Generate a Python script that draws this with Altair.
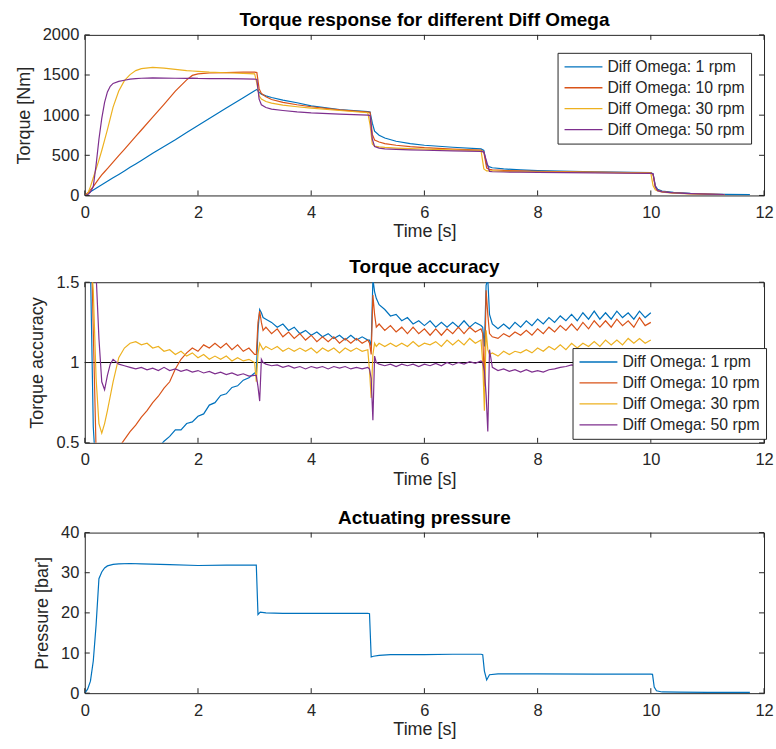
import altair as alt
import pandas as pd

FONT = "Liberation Sans"
TXT = "#262626"
BOX = "#262626"
SERIES = ["Diff Omega: 1 rpm", "Diff Omega: 10 rpm", "Diff Omega: 30 rpm", "Diff Omega: 50 rpm"]
COLORS = ["#0072BD", "#D95319", "#EDB120", "#7E2F8E"]

X_TICKS = [0, 2, 4, 6, 8, 10, 12]
TORQUE_TICKS = [0, 500, 1000, 1500, 2000]
ACC_TICKS = [0.5, 1, 1.5]
PRESS_TICKS = [0, 10, 20, 30, 40]

# ---------------- Torque response ----------------
T_TORQUE = [0, 0.05, 0.1, 0.15, 0.2, 0.25, 0.3, 0.35, 0.4, 0.45, 0.5, 0.6, 0.7, 0.8, 0.9, 1.0,
            1.2, 1.4, 1.6, 1.8, 1.9, 2.0, 2.2, 2.5, 2.8, 3.0, 3.04, 3.08, 3.12, 3.2, 3.3, 3.5,
            3.75, 4.0, 4.5, 5.0, 5.04, 5.08, 5.12, 5.2, 5.3, 5.5, 5.75, 6.0, 6.5, 7.0, 7.05, 7.1,
            7.15, 7.2, 7.4, 7.7, 8.0, 9.0, 10.0, 10.04, 10.08, 10.12, 10.2, 10.4, 10.7, 11.0, 11.3, 11.75]
TQ_1 = [0, 25, 45, 68, 90, 112, 133, 155, 177, 198, 220, 262, 305, 350, 393, 436,
        525, 610, 695, 785, 828, 872, 958, 1090, 1218, 1305, 1320, 1285, 1262, 1240, 1220, 1188,
        1155, 1115, 1070, 1045, 1040, 900, 800, 750, 715, 675, 645, 625, 600, 580, 560, 380,
        355, 345, 330, 318, 310, 295, 285, 270, 120, 75, 55, 38, 25, 18, 14, 10]
TQ_10 = [0, 30, 70, 110, 160, 210, 255, 295, 335, 375, 415, 495, 575, 655, 735, 815,
         975, 1135, 1300, 1440, 1495, 1515, 1525, 1530, 1535, 1535, 1530, 1330, 1270, 1230, 1195, 1160,
         1130, 1105, 1065, 1038, 1035, 760, 690, 665, 645, 625, 608, 595, 578, 565, 540, 340,
         325, 320, 312, 305, 300, 290, 280, 260, 100, 65, 48, 33, 22, 16, 12, None]
TQ_30 = [0, 20, 110, 220, 330, 440, 560, 690, 820, 960, 1100, 1300, 1430, 1505, 1555, 1580,
         1595, 1585, 1570, 1555, 1550, 1545, 1535, 1528, 1520, 1515, 1400, 1240, 1200, 1170, 1150, 1125,
         1105, 1088, 1058, 1030, 880, 640, 615, 605, 598, 590, 583, 578, 568, 558, 330, 305,
         305, 305, 300, 297, 295, 287, 278, 120, 70, 55, 42, 30, 20, 15, 11, None]
TQ_50 = [0, 10, 40, 110, 380, 700, 960, 1160, 1290, 1360, 1395, 1420, 1435, 1448, 1455, 1460,
         1465, 1462, 1460, 1458, 1462, 1458, 1455, 1455, 1452, 1450, 1445, 1200, 1130, 1095, 1075, 1058,
         1040, 1028, 1012, 1000, 995, 700, 610, 590, 580, 575, 568, 563, 555, 548, 540, 420,
         300, 295, 292, 290, 288, 282, 275, 270, 110, 60, 45, 32, 22, 16, 12, None]

# ---------------- Torque accuracy ----------------
T_ACC = ([0, 0.05, 0.1, 0.15, 0.2, 0.25, 0.3, 0.35, 0.4, 0.45, 0.5]
         + [0.6, 0.7, 0.8, 0.9, 1.0, 1.1, 1.2, 1.3, 1.4, 1.5, 1.6, 1.7, 1.8, 1.9, 2.0, 2.1, 2.2,
            2.3, 2.4, 2.5, 2.6, 2.7, 2.8, 2.9, 3.0]
         + [3.03, 3.06, 3.09, 3.12, 3.15, 3.2]
         + [3.3, 3.4, 3.5, 3.6, 3.7, 3.8, 3.9, 4.0, 4.1, 4.2, 4.3, 4.4, 4.5, 4.6, 4.7, 4.8, 4.9, 5.0]
         + [5.03, 5.06, 5.09, 5.12, 5.15, 5.2]
         + [5.3, 5.4, 5.5, 5.6, 5.7, 5.8, 5.9, 6.0, 6.1, 6.2, 6.3, 6.4, 6.5, 6.6, 6.7, 6.8, 6.9, 7.0]
         + [7.03, 7.06, 7.09, 7.12, 7.15, 7.2]
         + [7.3, 7.4, 7.5, 7.6, 7.7, 7.8, 7.9, 8.0, 8.1, 8.2, 8.3, 8.4, 8.5, 8.6, 8.7, 8.8, 8.9,
            9.0, 9.1, 9.2, 9.3, 9.4, 9.5, 9.6, 9.7, 9.8, 9.9, 10.0])
ACC_1 = ([3.0, 2.5, 1.6, 0.6, 0.3, 0.2, 0.2, 0.2, 0.21, 0.22, 0.23]
         + [0.26, 0.29, 0.32, 0.35, 0.38, 0.41, 0.44, 0.47, 0.51, 0.54, 0.58, 0.58, 0.62, 0.63, 0.665,
            0.68, 0.735, 0.75, 0.795, 0.805, 0.845, 0.855, 0.89, 0.905, 0.935]
         + [0.94, 1.2, 1.33, 1.31, 1.28, 1.27]
         + [1.25, 1.22, 1.24, 1.20, 1.22, 1.18, 1.20, 1.17, 1.19, 1.16, 1.18, 1.15, 1.17, 1.14, 1.17,
            1.14, 1.16, 1.14]
         + [1.14, 1.10, 1.52, 1.44, 1.40, 1.36]
         + [1.33, 1.29, 1.30, 1.26, 1.28, 1.24, 1.26, 1.23, 1.26, 1.22, 1.25, 1.22, 1.25, 1.22, 1.26,
            1.22, 1.25, 1.23]
         + [1.22, 1.10, 1.48, 1.52, 1.30, 1.24]
         + [1.21, 1.24, 1.21, 1.25, 1.22, 1.26, 1.23, 1.27, 1.24, 1.28, 1.25, 1.29, 1.26, 1.30, 1.26,
            1.31, 1.27, 1.32, 1.27, 1.31, 1.27, 1.32, 1.28, 1.31, 1.27, 1.32, 1.28, 1.31])
ACC_10 = ([3.0, 2.6, 2.0, 1.2, 0.45, 0.35, 0.32, 0.33, 0.35, 0.38, 0.41]
          + [0.47, 0.52, 0.57, 0.61, 0.66, 0.70, 0.75, 0.79, 0.84, 0.88, 0.96, 1.02, 1.06, 1.09, 1.07,
             1.11, 1.09, 1.12, 1.09, 1.12, 1.08, 1.11, 1.07, 1.09, 1.05]
          + [1.05, 1.25, 1.32, 1.25, 1.20, 1.22]
          + [1.18, 1.21, 1.16, 1.19, 1.15, 1.18, 1.14, 1.17, 1.13, 1.16, 1.13, 1.16, 1.12, 1.15, 1.12,
             1.15, 1.12, 1.14]
          + [1.12, 1.05, 1.42, 1.30, 1.22, 1.24]
          + [1.20, 1.23, 1.19, 1.22, 1.18, 1.22, 1.18, 1.21, 1.17, 1.21, 1.17, 1.21, 1.18, 1.22, 1.18,
             1.22, 1.19, 1.21]
          + [1.18, 0.85, 1.45, 1.30, 1.18, 1.16]
          + [1.15, 1.18, 1.16, 1.19, 1.17, 1.20, 1.17, 1.21, 1.18, 1.22, 1.19, 1.23, 1.20, 1.24, 1.20,
             1.25, 1.21, 1.26, 1.22, 1.26, 1.22, 1.27, 1.23, 1.26, 1.22, 1.28, 1.23, 1.25])
ACC_30 = ([3.0, 2.4, 1.7, 1.45, 0.9, 0.62, 0.56, 0.62, 0.70, 0.79, 0.88]
          + [1.03, 1.09, 1.12, 1.13, 1.11, 1.12, 1.09, 1.10, 1.07, 1.08, 1.05, 1.07, 1.04, 1.06, 1.03,
             1.05, 1.02, 1.04, 1.02, 1.04, 1.01, 1.03, 1.01, 1.02, 1.00]
          + [0.88, 1.05, 1.12, 1.10, 1.08, 1.10]
          + [1.08, 1.10, 1.07, 1.09, 1.07, 1.09, 1.07, 1.09, 1.06, 1.09, 1.07, 1.09, 1.06, 1.09, 1.07,
             1.09, 1.07, 1.08]
          + [0.95, 0.78, 1.05, 1.12, 1.10, 1.12]
          + [1.10, 1.12, 1.10, 1.12, 1.10, 1.13, 1.10, 1.12, 1.11, 1.13, 1.10, 1.14, 1.11, 1.14, 1.11,
             1.15, 1.12, 1.14]
          + [1.00, 0.70, 1.20, 1.08, 1.05, 1.06]
          + [1.04, 1.07, 1.05, 1.07, 1.06, 1.08, 1.06, 1.09, 1.07, 1.10, 1.08, 1.11, 1.08, 1.12, 1.09,
             1.12, 1.10, 1.13, 1.10, 1.14, 1.11, 1.14, 1.11, 1.15, 1.12, 1.15, 1.12, 1.14])
ACC_50 = ([3.0, 2.8, 2.3, 1.8, 1.55, 1.15, 0.88, 0.83, 0.92, 0.99, 1.02]
          + [0.99, 0.98, 0.97, 0.96, 0.97, 0.955, 0.965, 0.95, 0.97, 0.95, 0.96, 0.945, 0.955, 0.94,
             0.95, 0.935, 0.945, 0.93, 0.94, 0.925, 0.935, 0.92, 0.93, 0.915, 0.92]
          + [0.92, 0.85, 0.76, 1.02, 1.00, 0.99]
          + [0.98, 0.985, 0.97, 0.98, 0.965, 0.975, 0.96, 0.975, 0.965, 0.975, 0.96, 0.975, 0.965,
             0.975, 0.96, 0.97, 0.96, 0.97]
          + [0.96, 0.90, 0.64, 1.04, 1.00, 0.99]
          + [0.98, 0.99, 0.975, 0.99, 0.98, 0.99, 0.975, 0.99, 0.98, 0.995, 0.98, 1.00, 0.985, 1.00,
             0.99, 1.005, 0.995, 1.01]
          + [1.00, 0.95, 0.80, 0.57, 1.08, 0.97]
          + [0.95, 0.96, 0.945, 0.955, 0.94, 0.955, 0.94, 0.95, 0.94, 0.955, 0.96, 0.97, 0.975, 0.985,
             0.98, 0.99, 0.985, 0.995, 0.99, 1.00, 0.99, 1.00, 0.995, 1.005, 0.995, 1.00, 0.995, 1.00])
ACC_REF = [1.0]

# ---------------- Actuating pressure ----------------
T_PRESS = [0, 0.05, 0.1, 0.15, 0.2, 0.25, 0.3, 0.35, 0.4, 0.5, 0.6, 0.8, 1.0, 1.5, 2.0, 2.5, 3.0,
           3.03, 3.06, 3.1, 3.2, 3.5, 4.0, 4.5, 5.0, 5.03, 5.06, 5.1, 5.2, 5.4, 6.0, 6.5, 7.0,
           7.03, 7.06, 7.1, 7.15, 7.3, 8.0, 9.0, 10.0, 10.03, 10.06, 10.1, 10.2, 10.5, 11.0, 11.75]
PRESS = [0, 1, 3, 8, 17, 28.5, 30.2, 31.2, 31.7, 32.1, 32.2, 32.3, 32.2, 32.0, 31.8, 31.9, 31.9,
         31.9, 19.6, 20.2, 20.0, 19.9, 19.9, 19.9, 19.9, 19.8, 9.0, 9.2, 9.4, 9.6, 9.6, 9.7, 9.7,
         9.6, 5.5, 3.3, 4.6, 4.8, 4.8, 4.75, 4.75, 4.7, 1.5, 0.6, 0.3, 0.25, 0.2, 0.2]

for s in (TQ_1, TQ_10, TQ_30, TQ_50):
    assert len(s) == len(T_TORQUE)
for s in (ACC_1, ACC_10, ACC_30, ACC_50):
    assert len(s) == len(T_ACC)
assert len(PRESS) == len(T_PRESS)


def long_df(times, series_list):
    rows = []
    for name, vals in zip(SERIES, series_list):
        for t, v in zip(times, vals):
            if v is not None:
                rows.append({"t": t, "v": v, "s": name})
    return pd.DataFrame(rows)


torque_df = long_df(T_TORQUE, [TQ_1, TQ_10, TQ_30, TQ_50])
acc_df = long_df(T_ACC, [ACC_1, ACC_10, ACC_30, ACC_50])
press_df = pd.DataFrame({"t": T_PRESS, "v": PRESS})

W, H = 681, 161
TICK = 5


def x_axis():
    return alt.Axis(title="Time [s]", values=X_TICKS, format="d", ticks=False, domain=False,
                    grid=False, labelPadding=9, titlePadding=2, labelFontSize=16.5,
                    titleFontSize=18, labelColor=TXT, titleColor=TXT, labelFont=FONT,
                    titleFont=FONT, titleFontWeight="normal", labelFlush=False,
                    labelOverlap=False)


def y_axis(title, vals, fmt):
    return alt.Axis(title=title, values=vals, format=fmt, ticks=False, domain=False,
                    grid=False, labelPadding=6, titlePadding=9, labelFontSize=16.5,
                    titleFontSize=18, labelColor=TXT, titleColor=TXT, labelFont=FONT,
                    titleFont=FONT, titleFontWeight="normal", labelFlush=False,
                    labelOverlap=False)


def panel(title, ytitle, ydom, yticks, yfmt, line_layers):
    xs = alt.Scale(domain=[0, 12], nice=False, zero=False)
    ys = alt.Scale(domain=ydom, nice=False, zero=False)
    X = lambda: alt.X("t:Q", scale=xs, axis=x_axis())
    Y = lambda: alt.Y("v:Q", scale=ys, axis=y_axis(ytitle, yticks, yfmt))
    xt = pd.DataFrame({"t": X_TICKS})
    yt = pd.DataFrame({"v": yticks})
    layers = []
    for lay in line_layers:
        layers.append(lay(X, Y))
    layers += [
        alt.Chart(xt).mark_rule(color=BOX, strokeWidth=1).encode(x=X(), y=alt.value(H), y2=alt.value(H - TICK)),
        alt.Chart(xt).mark_rule(color=BOX, strokeWidth=1).encode(x=X(), y=alt.value(0), y2=alt.value(TICK)),
        alt.Chart(yt).mark_rule(color=BOX, strokeWidth=1).encode(y=Y(), x=alt.value(0), x2=alt.value(TICK)),
        alt.Chart(yt).mark_rule(color=BOX, strokeWidth=1).encode(y=Y(), x=alt.value(W), x2=alt.value(W - TICK)),
    ]
    return alt.layer(*layers).properties(
        width=W, height=H,
        title=alt.TitleParams(title, font=FONT, fontSize=19, fontWeight="bold", color="#000000",
                              anchor="middle", offset=-3, frame="group"),
    )


def legend(lx, ly):
    return alt.Legend(title=None, orient="none", legendX=lx, legendY=ly, direction="vertical",
                      symbolType="stroke", symbolSize=1444, symbolStrokeWidth=1.3,
                      labelFontSize=15.8, labelFont=FONT, labelColor=TXT, labelOffset=4,
                      padding=6, rowPadding=5, clipHeight=16, strokeColor=TXT, fillColor="white",
                      labelLimit=300)


cscale = alt.Scale(domain=SERIES, range=COLORS)


def torque_lines(X, Y):
    return alt.Chart(torque_df).mark_line(strokeWidth=1.2, clip=True).encode(
        x=X(), y=Y(), color=alt.Color("s:N", scale=cscale, legend=legend(474, 18)),
        order=alt.Order("t:Q"))


def acc_ref(X, Y):
    return alt.Chart(pd.DataFrame({"v": ACC_REF})).mark_rule(color="#000000", strokeWidth=1).encode(y=Y())


def acc_lines(X, Y):
    return alt.Chart(acc_df).mark_line(strokeWidth=1.2, clip=True).encode(
        x=X(), y=Y(), color=alt.Color("s:N", scale=cscale, legend=legend(489, 66)),
        order=alt.Order("t:Q"))


def press_line(X, Y):
    return alt.Chart(press_df).mark_line(strokeWidth=1.2, clip=True, color=COLORS[0]).encode(
        x=X(), y=Y(), order=alt.Order("t:Q"))


top = panel("Torque response for different Diff Omega", "Torque [Nm]", [0, 2000], TORQUE_TICKS, "d", [torque_lines])
mid = panel("Torque accuracy", "Torque accuracy", [0.5, 1.5], ACC_TICKS, ".1~f", [acc_ref, acc_lines])
bot = panel("Actuating pressure", "Pressure [bar]", [0, 40], PRESS_TICKS, "d", [press_line])

upper = alt.vconcat(top, mid, spacing=16).resolve_legend(color="independent")
chart = alt.vconcat(upper, bot, spacing=19).resolve_legend(color="independent").properties(
    padding={"left": 14, "top": 9, "right": 2, "bottom": 2}, background="white"
).configure_view(stroke=BOX, strokeWidth=1)

chart.save("out.html", embed_options={"renderer": "svg", "actions": False})
